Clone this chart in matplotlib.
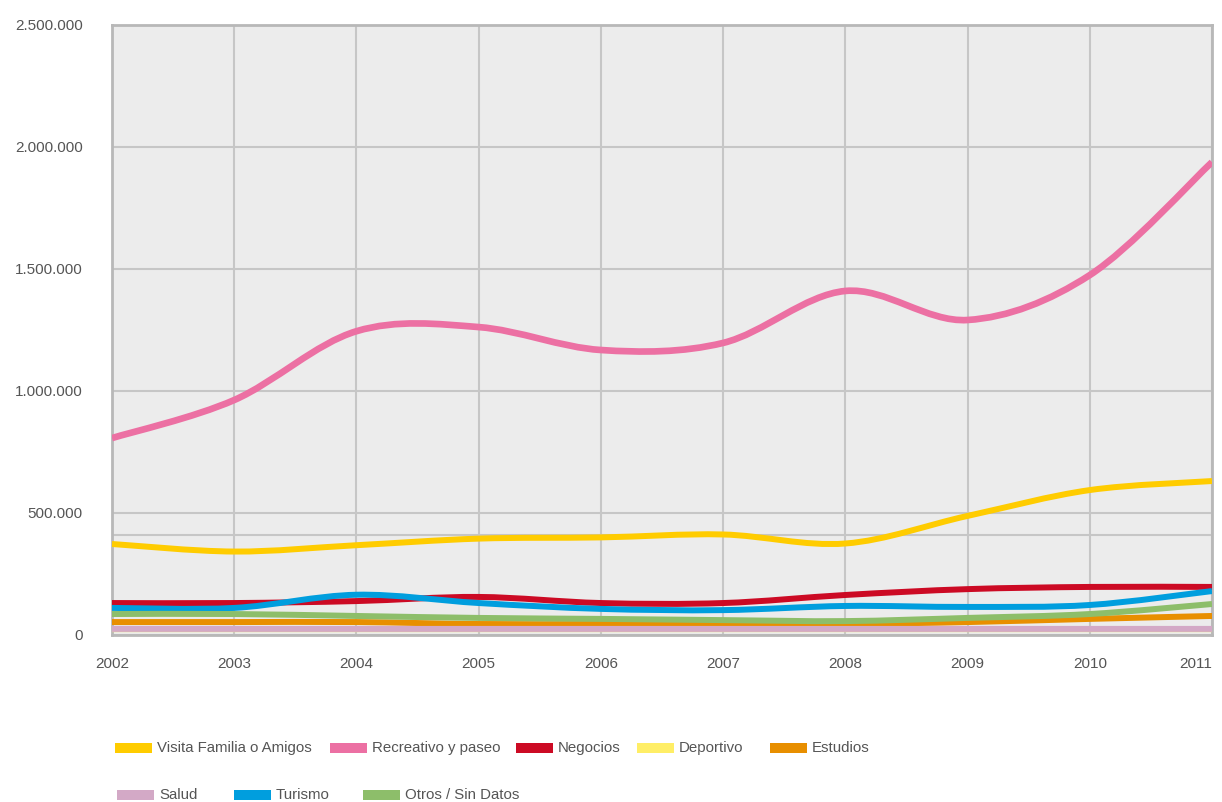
import numpy as np
import matplotlib
matplotlib.use('Agg')
import matplotlib.pyplot as plt
from matplotlib.path import Path
from matplotlib.patches import PathPatch, Rectangle
from matplotlib.ticker import FuncFormatter

years = [2002, 2003, 2004, 2005, 2006, 2007, 2008, 2009, 2010, 2011]

visita     = [373000, 342000, 368000, 395000, 400000, 412000, 375000, 488000, 594000, 631000]
recreativo = [807000, 963000, 1245000, 1262000, 1168000, 1197000, 1410000, 1291000, 1475000, 1938000]
negocios   = [131000, 131000, 139000, 156000, 131000, 131000, 164000, 188000, 197000, 197000]
deportivo  = [24000, 24000, 24000, 24000, 24000, 24000, 24000, 24000, 24000, 24000]
estudios   = [53000, 53000, 53000, 45000, 45000, 45000, 45000, 53000, 66000, 78000]
salud      = [25000, 25000, 25000, 25000, 25000, 25000, 25000, 25000, 25000, 25000]
turismo    = [111000, 111000, 165000, 131000, 107000, 102000, 119000, 115000, 123000, 180000]
otros      = [86000, 86000, 78000, 70000, 66000, 61000, 57000, 70000, 86000, 127000]

names = ['Visita Familia o Amigos', 'Recreativo y paseo', 'Negocios', 'Deportivo',
         'Estudios', 'Salud', 'Turismo', 'Otros / Sin Datos']
series = [visita, recreativo, negocios, deportivo, estudios, salud, turismo, otros]
colors = ['#FFCC00', '#EC70A3', '#CC0A24', '#FFEE66', '#E88F00', '#D3A9C6', '#009EDE', '#8DBE6A']

yticks = [0, 500000, 1000000, 1500000, 2000000, 2500000]

W, H = 1222, 802
fig = plt.figure(figsize=(W / 100, H / 100), dpi=100)
ax = fig.add_axes([112 / W, 1 - 635 / H, 1100 / W, 610 / H])
ax.set_facecolor('#ECECEC')


def smooth_path(x, y):
    # excel-like smoothed line: catmull-rom segments as cubic beziers
    pts = np.column_stack([x, y]).astype(float)
    n = len(pts)
    verts = [pts[0]]
    codes = [Path.MOVETO]
    for i in range(n - 1):
        p0 = pts[i - 1] if i > 0 else pts[i]
        p1, p2 = pts[i], pts[i + 1]
        p3 = pts[i + 2] if i + 2 < n else pts[i + 1]
        verts += [p1 + (p2 - p0) / 6., p2 - (p3 - p1) / 6., p2]
        codes += [Path.CURVE4] * 3
    return Path(verts, codes)


for vals, c in zip(series, colors):
    lw = 4.8 if c == '#EC70A3' else 4.3
    ax.add_patch(PathPatch(smooth_path(years, vals), fill=False, edgecolor=c,
                           lw=lw, capstyle='butt', joinstyle='round', zorder=3))

ax.set_xlim(2002, 2011)
ax.set_ylim(0, 2500000)
ax.set_xticks(years)
ax.set_yticks(yticks)
ax.yaxis.set_major_formatter(FuncFormatter(lambda v, p: '{:,.0f}'.format(v).replace(',', '.')))
ax.grid(True, color='#C6C6C6', lw=1.5, zorder=1)
ax.axhline(410000, color='#C6C6C6', lw=1.5, zorder=1)
ax.set_axisbelow(True)
for s in ax.spines.values():
    s.set_color('#B8B8B8')
    s.set_linewidth(2)

lab_font = 'Liberation Sans'
ax.tick_params(length=0, labelsize=11, labelcolor='#555555')
ax.tick_params(axis='y', pad=21)
ax.tick_params(axis='x', pad=16)
for t in ax.get_xticklabels() + ax.get_yticklabels():
    t.set_fontfamily(lab_font)
xl = ax.get_xticklabels()
xl[-1].set_ha('right')

# legend, two rows laid out like the original
leg_x = [115, 330, 516, 637, 770, 117, 234, 363]
leg_y = [748, 748, 748, 748, 748, 795, 795, 795]
for name, c, lx, ly in zip(names, colors, leg_x, leg_y):
    fig.add_artist(Rectangle((lx / W, 1 - (ly + 5) / H), 37 / W, 10 / H,
                             transform=fig.transFigure, color=c, lw=0))
    fig.text((lx + 42) / W, 1 - ly / H, name, fontsize=10.8, family=lab_font,
             color='#555555', va='center', ha='left')

fig.savefig('out.png', dpi=100, facecolor='white')
